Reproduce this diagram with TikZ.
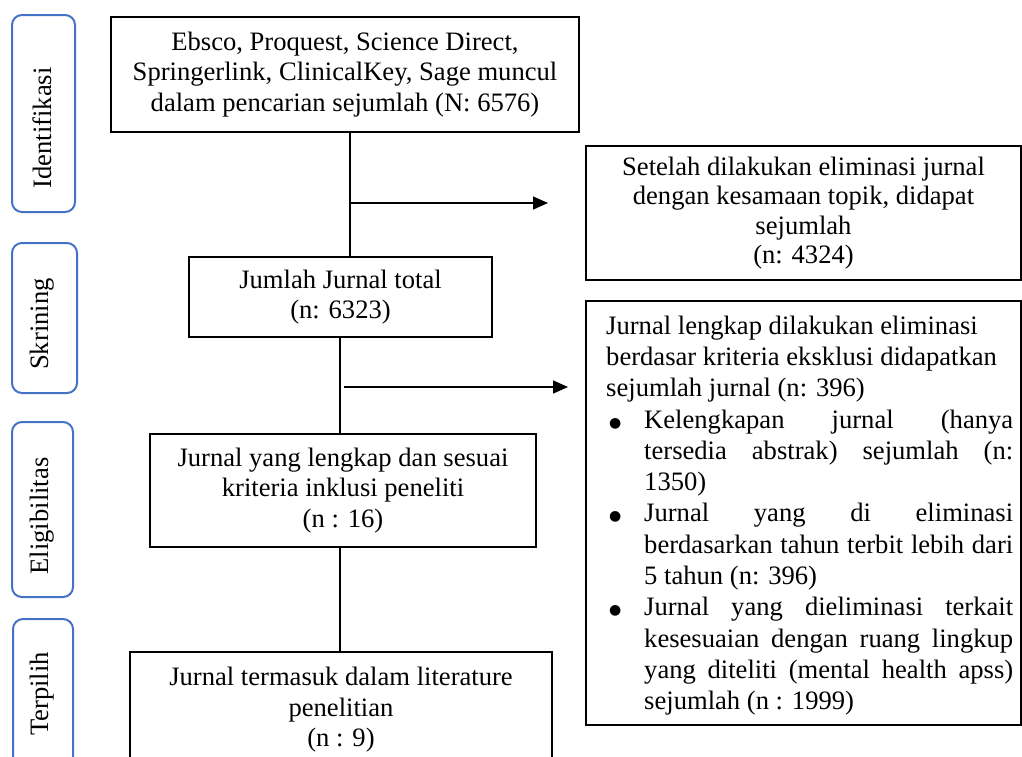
\documentclass[tikz,border=0pt]{standalone}
\usepackage{fontspec}
\setmainfont{Liberation Serif}
\newfontfamily\symfont{DejaVu Sans}
\usetikzlibrary{arrows.meta}
\definecolor{phaseblue}{HTML}{4472C4}
\begin{document}
\begin{tikzpicture}[x=1pt,y=-1pt,
  font=\fontsize{26.6}{30.5}\selectfont,
  box/.style={draw, line width=1.2pt, align=center, inner sep=0pt},
  phase/.style={draw=phaseblue, line width=2pt, rounded corners=10pt, inner sep=0pt},
  conn/.style={line width=1.5pt},
  arr/.style={line width=1.5pt, -{Triangle[length=15pt,width=13pt]}}]
\useasboundingbox (0,0) rectangle (1022,756);

% phase labels
\node[phase, minimum width=63pt, minimum height=197pt] (idbox) at (43.5,113.5) {};
\node[rotate=90] (idtxt) at (42,128) {Identifikasi};
\node[phase, minimum width=65pt, minimum height=150pt] (skbox) at (44.5,318) {};
\node[rotate=90] (sktxt) at (42,324) {Skrining};
\node[phase, minimum width=61pt, minimum height=175pt] (elbox) at (42.5,509.5) {};
\node[rotate=90] (eltxt) at (42,516) {Eligibilitas};
\node[phase, minimum width=60pt, minimum height=150pt] (tpbox) at (43,694) {};
\node[rotate=90] (tptxt) at (42,694) {Terpilih};

% main flow
\node[box, minimum width=468pt, minimum height=115pt] (top) at (345,74.5)
  {Ebsco, Proquest, Science Direct,\\Springerlink, ClinicalKey, Sage muncul\\dalam pencarian sejumlah (N: 6576)};
\node[box, minimum width=303pt, minimum height=80pt] (jumlah) at (340.5,297)
  {Jumlah Jurnal total\\(n: 6323)};
\node[box, minimum width=386pt, minimum height=113pt] (lengkap) at (343,490.5)
  {Jurnal yang lengkap dan sesuai\\kriteria inklusi peneliti\\(n : 16)};
\node[box, minimum width=422pt, minimum height=116pt] (final) at (341,710)
  {Jurnal termasuk dalam literature\\penelitian\\(n : 9)};

% exclusion boxes
\node[box, minimum width=435pt, minimum height=134pt, font=\fontsize{26.6}{29.5}\selectfont] (excl1) at (803.5,213)
  {Setelah dilakukan eliminasi jurnal\\dengan kesamaan topik, didapat\\sejumlah\\(n: 4324)};
\node[box, minimum width=435pt, minimum height=424pt] (excl2) at (803.5,513) {};
\node[anchor=north west, inner sep=0pt] (excl2txt) at (606,315.5) {%
\begin{minipage}[t]{407pt}\fontsize{26.6}{31.3}\selectfont
{\raggedright Jurnal lengkap dilakukan eliminasi\\berdasar kriteria eksklusi didapatkan\\sejumlah jurnal (n: 396)\par}
\begin{list}{\makebox[10pt][c]{\raisebox{1pt}{\symfont\fontsize{14}{14}\selectfont ●}}}{\setlength\leftmargin{38pt}\setlength\labelwidth{10pt}%
  \setlength\labelsep{24pt}\setlength\itemsep{0pt}\setlength\parsep{0pt}%
  \setlength\topsep{0pt}\setlength\partopsep{0pt}}
\item Kelengkapan jurnal (hanya\linebreak tersedia abstrak) sejumlah (n:\linebreak 1350)
\item Jurnal yang di eliminasi\linebreak berdasarkan tahun terbit lebih dari\linebreak 5 tahun (n: 396)
\item Jurnal yang dieliminasi terkait\linebreak kesesuaian dengan ruang lingkup\linebreak yang diteliti (mental health apss)\linebreak sejumlah (n : 1999)
\end{list}
\end{minipage}};

% connectors
\coordinate (x350) at (350,0);
\coordinate (x340) at (340,0);
\draw[conn] (top.south -| x350) -- (jumlah.north -| x350);
\draw[conn] (jumlah.south -| x340) -- (lengkap.north -| x340);
\draw[conn] (lengkap.south -| x340) -- (final.north -| x340);
\coordinate (a1s) at (351,203);
\coordinate (a1e) at (548,203);
\coordinate (a2s) at (344,387);
\coordinate (a2e) at (568,387);
\draw[arr] (a1s) -- (a1e);
\draw[arr] (a2s) -- (a2e);
\end{tikzpicture}
\end{document}
